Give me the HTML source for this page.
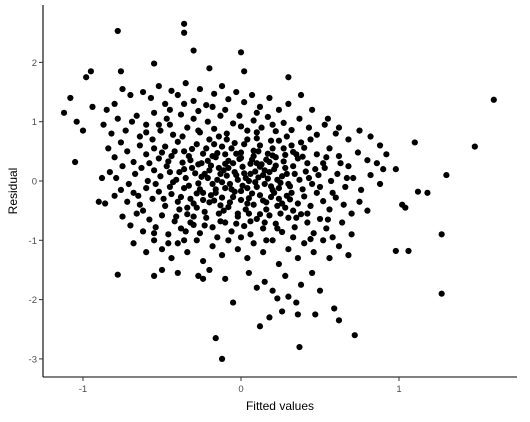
<!DOCTYPE html>
<html><head><meta charset="utf-8"><style>
html,body{margin:0;padding:0;background:#fff;}
svg text{font-family:"Liberation Sans",Arial,sans-serif;}
</style></head><body>
<svg id="chart" width="530" height="417" xmlns="http://www.w3.org/2000/svg">
<g id="points"></g>
<g id="axes"></g>
</svg>
<script>
const xTicks=[-1,0,1];
const yTicks=[-3,-2,-1,0,1,2];
const xLabel="Fitted values";
const yLabel="Residual";
const outliers=[[1.6,1.37],[1.48,0.58],[1.3,0.1],[1.27,-0.9],[1.27,-1.9],[1.18,-0.2],[1.12,-0.18],[1.06,-1.18],[0.98,-1.18],[1.1,0.65],[1.02,-0.4],[1.04,-0.45],[0.98,0.2],
[-0.36,2.65],[-0.36,2.5],[-0.78,2.53],[-1.12,1.15],[-1.08,1.4],[-1.05,0.32],[-0.95,1.85],[-0.98,1.75],[-1.04,1.0],[-1.0,0.85],[-0.94,1.25],[-0.9,-0.35],[-0.86,-0.38],[-0.88,0.05],
[-0.16,-2.65],[-0.12,-3.0],[0.37,-2.8],[0.72,-2.6],[-0.05,-2.05],[0.12,-2.45],[0.18,-2.3],[0.26,-2.2],[0.36,-2.25],[0.47,-2.25],[0.59,-2.15],[0.62,-2.35],[0.35,-2.05],[0.23,-1.98],
[-0.78,-1.58],[-0.55,-1.6],[-0.27,-1.6],[-0.24,-1.65],[0.0,2.17],[0.3,1.75],[0.02,1.85],[-0.3,2.2],[-0.55,1.98],[-0.76,1.85],[-0.2,1.9]];
const cloud=[
[-0.85,1.2],[-0.8,1.3],[-0.75,1.55],[-0.7,1.45],[-0.66,1.1],[-0.62,1.5],[-0.57,1.4],[-0.52,1.6],[-0.48,1.3],[-0.44,1.52],[-0.4,1.45],[-0.35,1.65],[-0.3,1.35],[-0.26,1.55],[-0.22,1.28],[-0.17,1.47],[-0.12,1.6],[-0.08,1.38],[-0.03,1.5],[0.02,1.33],[0.07,1.45],[0.12,1.25],[0.18,1.4],[0.24,1.2],[0.3,1.3],[0.38,1.45],[0.45,1.2],[0.55,1.05],[0.62,0.9],
[-0.87,0.95],[-0.82,0.8],[-0.78,1.05],[-0.73,0.85],[-0.69,1.0],[-0.64,0.75],[-0.6,0.95],[-0.55,1.15],[-0.51,0.85],[-0.47,1.05],[-0.43,0.78],[-0.38,1.12],[-0.34,0.9],[-0.3,1.05],[-0.26,0.82],[-0.21,1.0],[-0.17,0.88],[-0.13,1.1],[-0.09,0.8],[-0.05,0.97],[-0.01,1.1],[0.04,0.85],[0.08,1.02],[0.13,0.9],[0.17,1.08],[0.22,0.84],[0.27,0.98],[0.32,0.86],[0.37,1.05],[0.43,0.9],[0.48,0.78],[0.53,0.95],[0.6,0.8],[0.68,0.7],[0.75,0.85],[0.82,0.75],[0.88,0.6],
[-0.84,0.55],[-0.8,0.4],[-0.76,0.65],[-0.72,0.5],[-0.68,0.32],[-0.64,0.6],[-0.6,0.45],[-0.56,0.7],[-0.52,0.38],[-0.48,0.58],[-0.44,0.42],[-0.4,0.66],[-0.36,0.5],[-0.32,0.35],[-0.28,0.62],[-0.24,0.46],[-0.2,0.7],[-0.16,0.4],[-0.12,0.58],[-0.08,0.34],[-0.04,0.64],[0.0,0.48],[0.04,0.7],[0.08,0.42],[0.12,0.6],[0.16,0.36],[0.2,0.55],[0.24,0.68],[0.28,0.44],[0.32,0.6],[0.36,0.38],[0.4,0.56],[0.44,0.7],[0.48,0.45],[0.52,0.3],[0.56,0.55],[0.62,0.42],[0.68,0.25],[0.74,0.48],[0.8,0.35],[0.86,0.3],[0.92,0.45],
[-0.83,0.15],[-0.79,0.05],[-0.75,0.25],[-0.71,-0.05],[-0.67,0.12],[-0.63,0.22],[-0.59,0.0],[-0.55,0.18],[-0.51,0.08],[-0.47,0.25],[-0.43,-0.02],[-0.39,0.15],[-0.35,0.05],[-0.31,0.22],[-0.27,-0.04],[-0.23,0.12],[-0.19,0.26],[-0.15,0.02],[-0.11,0.18],[-0.07,-0.05],[-0.03,0.1],[0.01,0.24],[0.05,0.0],[0.09,0.16],[0.13,0.28],[0.17,0.04],[0.21,0.2],[0.25,-0.03],[0.29,0.12],[0.33,0.25],[0.37,0.02],[0.41,0.16],[0.45,-0.05],[0.49,0.1],[0.53,0.22],[0.57,0.0],[0.61,0.12],[0.66,-0.1],[0.71,0.05],[0.76,-0.15],[0.82,0.1],[0.88,-0.05],[0.9,0.2],
[-0.8,-0.25],[-0.76,-0.15],[-0.72,-0.35],[-0.68,-0.2],[-0.64,-0.4],[-0.6,-0.12],[-0.56,-0.3],[-0.52,-0.18],[-0.48,-0.42],[-0.44,-0.22],[-0.4,-0.35],[-0.36,-0.12],[-0.32,-0.3],[-0.28,-0.45],[-0.24,-0.2],[-0.2,-0.36],[-0.16,-0.14],[-0.12,-0.28],[-0.08,-0.44],[-0.04,-0.18],[0.0,-0.32],[0.04,-0.12],[0.08,-0.4],[0.12,-0.24],[0.16,-0.36],[0.2,-0.15],[0.24,-0.3],[0.28,-0.45],[0.32,-0.2],[0.36,-0.38],[0.4,-0.26],[0.44,-0.42],[0.48,-0.2],[0.52,-0.34],[0.56,-0.48],[0.6,-0.28],[0.65,-0.4],[0.7,-0.55],[0.75,-0.35],[0.8,-0.5],
[-0.75,-0.6],[-0.7,-0.75],[-0.66,-0.55],[-0.62,-0.85],[-0.58,-0.65],[-0.54,-0.78],[-0.5,-0.58],[-0.46,-0.9],[-0.42,-0.68],[-0.38,-0.8],[-0.34,-0.56],[-0.3,-0.74],[-0.26,-0.88],[-0.22,-0.62],[-0.18,-0.78],[-0.14,-0.55],[-0.1,-0.7],[-0.06,-0.85],[-0.02,-0.6],[0.02,-0.76],[0.06,-0.9],[0.1,-0.64],[0.14,-0.8],[0.18,-0.58],[0.22,-0.72],[0.26,-0.86],[0.3,-0.62],[0.34,-0.78],[0.38,-0.56],[0.42,-0.7],[0.46,-0.88],[0.5,-0.64],[0.54,-0.8],[0.58,-0.95],[0.64,-0.7],[0.7,-0.9],
[-0.68,-1.05],[-0.6,-1.2],[-0.55,-1.0],[-0.5,-1.15],[-0.44,-1.3],[-0.4,-1.05],[-0.34,-1.2],[-0.28,-1.0],[-0.24,-1.35],[-0.18,-1.1],[-0.12,-1.25],[-0.08,-1.0],[-0.02,-1.15],[0.04,-1.3],[0.08,-1.05],[0.14,-1.2],[0.2,-1.0],[0.24,-1.4],[0.3,-1.15],[0.36,-1.3],[0.4,-1.05],[0.46,-1.2],[0.52,-1.0],[0.56,-1.3],[0.62,-1.1],[0.68,-1.25],
[-0.5,-1.5],[-0.4,-1.55],[-0.2,-1.5],[-0.1,-1.65],[0.05,-1.55],[0.15,-1.7],[0.28,-1.6],[0.38,-1.75],[0.45,-1.55],[0.5,-1.85],[0.2,-1.85],[0.3,-1.95],[0.1,-1.8],
[-0.45,0.95],[-0.25,0.3],[-0.1,0.45],[0.1,0.3],[0.15,-0.05],[-0.05,0.3],[-0.18,-0.05],[0.05,-0.55],[-0.3,-0.6],[0.3,-0.05],[0.35,0.45],[-0.55,0.55],[-0.65,-0.25],[0.22,0.4],[-0.14,0.75],[0.1,0.72],[-0.35,-0.85],[0.25,-0.55],[-0.02,0.02],[0.06,0.12],[-0.1,-0.12],[0.18,0.15],[-0.22,0.55],[0.42,0.3]
];
const core=[
[-0.33,0.42],[-0.29,0.13],[-0.26,-0.14],[-0.21,0.34],[-0.19,-0.24],[-0.14,0.22],[-0.13,-0.41],[-0.09,0.09],[-0.06,0.55],[-0.05,-0.27],[-0.01,0.37],[0.01,-0.08],[0.03,-0.48],[0.06,0.29],[0.07,-0.21],[0.11,0.06],[0.11,0.5],[0.14,-0.33],[0.15,0.18],[0.19,-0.09],[0.2,0.43],[0.23,-0.42],[0.26,0.08],[0.27,0.33],[0.31,-0.31],[0.34,0.12],[0.35,-0.62],[0.39,0.41],[0.39,-0.14],[0.43,0.05],
[-0.41,0.02],[-0.38,-0.27],[-0.37,0.31],[-0.34,-0.45],[-0.31,0.54],[-0.28,-0.21],[-0.25,0.07],[-0.23,-0.52],[-0.2,0.18],[-0.17,-0.33],[-0.15,0.47],[-0.12,-0.02],[-0.1,0.29],[-0.07,-0.36],[-0.04,0.15],[-0.02,-0.55],[0.0,0.39],[0.03,0.05],[0.05,-0.29],[0.08,0.51],[0.1,-0.1],[0.12,0.24],[0.16,-0.48],[0.18,0.32],[0.21,-0.2],[0.23,0.02],[0.26,-0.38],[0.28,0.22],[0.31,-0.09],[0.33,0.49],
[-0.46,0.33],[-0.45,-0.1],[-0.42,0.5],[-0.39,-0.48],[-0.36,0.2],[-0.33,-0.08],[-0.3,-0.38],[-0.27,0.28],[-0.24,-0.32],[-0.21,0.05],[-0.18,0.42],[-0.16,-0.2],[-0.13,0.12],[-0.11,-0.5],[-0.08,0.22],[-0.06,-0.14],[-0.03,0.46],[0.0,-0.17],[0.02,0.13],[0.04,-0.38],[0.07,0.36],[0.09,-0.02],[0.12,-0.56],[0.14,0.1],[0.17,0.46],[0.19,-0.27],[0.22,0.26],[0.24,-0.12],[0.27,0.55],[0.29,-0.25],
[-0.58,0.3],[-0.54,-0.05],[-0.5,0.48],[-0.49,-0.3],[-0.45,0.15],[-0.41,-0.6],[-0.37,0.75],[-0.32,-0.7],[-0.27,0.85],[-0.23,-0.75],[-0.17,0.62],[-0.13,-0.68],[-0.09,0.7],[-0.03,-0.72],[0.02,0.62],[0.06,-0.68],[0.1,0.82],[0.15,-0.7],[0.19,0.68],[0.23,-0.8],[0.29,0.75],[0.33,-0.5],[0.38,0.65],[0.42,-0.55],[0.47,0.2],[0.5,-0.1],[0.54,0.4],[0.58,-0.2],[0.63,0.3],[0.67,0.05],
[-0.6,0.82],[-0.52,0.95],[-0.45,1.2],[-0.36,1.3],[-0.27,1.18],[-0.18,1.25],[-0.1,1.2],[0.0,0.92],[0.1,1.15],[0.2,0.95],[-0.62,-0.5],[-0.55,-0.88],[-0.46,-1.05],[-0.36,-1.0],[-0.15,-0.95],[0.0,-0.95],[0.16,-1.0],[0.33,-0.95],[0.44,-0.98],[0.55,-0.65]
];
const X0=43,X1=517,Y0=5,Y1=377;
const xs=v=>241+v*158;
const ys=v=>181-v*59.3;
const NS="http://www.w3.org/2000/svg";
const pts=document.getElementById('points');
outliers.concat(cloud).concat(core).forEach(p=>{
  const c=document.createElementNS(NS,'circle');
  
  
  c.setAttribute('cx',xs(p[0]));c.setAttribute('cy',ys(p[1]));c.setAttribute('r',3.1);c.setAttribute('fill','#000');
  pts.appendChild(c);
});
const ax=document.getElementById('axes');
function mk(tag,attrs,txt){const e=document.createElementNS(NS,tag);for(const k in attrs)e.setAttribute(k,attrs[k]);if(txt!==undefined)e.textContent=txt;ax.appendChild(e);return e;}
const yl=mk('line',{x1:X0,y1:Y0,x2:X0,y2:Y1,stroke:'#000','stroke-width':1.1});


const xl=mk('line',{x1:X0,y1:Y1,x2:X1,y2:Y1,stroke:'#000','stroke-width':1.1});


xTicks.forEach(t=>{
  const l=mk('line',{x1:xs(t),y1:Y1,x2:xs(t),y2:Y1+4,stroke:'#333'});
  
  
  const tx=mk('text',{x:xs(t),y:Y1+15,'text-anchor':'middle','font-size':'9.5',fill:'#4d4d4d'},String(t));
  
  
});
yTicks.forEach(t=>{
  const l=mk('line',{x1:X0-4,y1:ys(t),x2:X0,y2:ys(t),stroke:'#333'});
  
  
  const tx=mk('text',{x:X0-6,y:ys(t)+3.5,'text-anchor':'end','font-size':'9.5',fill:'#4d4d4d'},String(t));
  
  
});
const xt=mk('text',{x:(X0+X1)/2,y:410,'text-anchor':'middle','font-size':'12',fill:'#000'},xLabel);


const yt=mk('text',{x:0,y:0,'text-anchor':'middle','font-size':'12',fill:'#000',transform:'translate(17,191) rotate(-90)'},yLabel);


</script>
</body></html>
